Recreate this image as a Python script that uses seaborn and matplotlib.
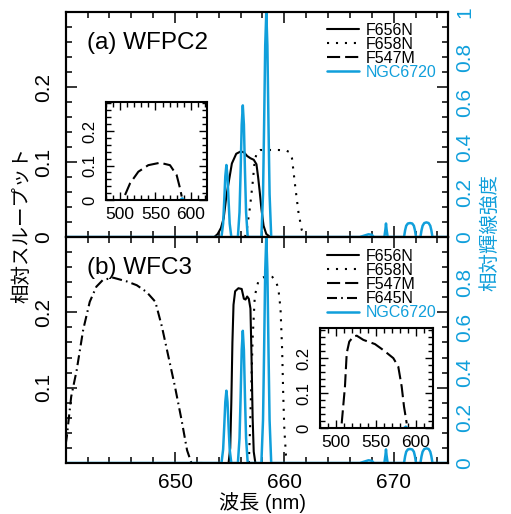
import numpy as np
import matplotlib
matplotlib.use('Agg')
import matplotlib.pyplot as plt
import seaborn as sns
from matplotlib.ticker import MultipleLocator

sns.set_theme(style='ticks', rc={'axes.edgecolor': 'black', 'axes.linewidth': 1.5,
                                 'xtick.color': 'black', 'ytick.color': 'black',
                                 'text.color': 'black', 'axes.labelcolor': 'black'})
plt.rcParams['font.family'] = ['Liberation Sans', 'Noto Sans CJK JP', 'DejaVu Sans']

CYAN = '#109FDB'

# ---------------- data ----------------
# NGC6720 relative line intensity (right axis, 0-1)
ngc_wl = [640.0, 654.25, 654.4, 654.5, 654.6, 654.7, 654.8, 654.9, 655.0, 655.15,
          655.75, 655.9, 656.0, 656.1, 656.2, 656.3, 656.4, 656.5, 656.65,
          657.9, 658.05, 658.15, 658.25, 658.35, 658.45, 658.55, 658.65, 658.8,
          666.9, 667.3, 667.7, 668.0, 668.2,
          669.15, 669.25, 669.3, 669.35, 669.45,
          670.95, 671.05, 671.15, 671.3, 671.5, 671.7, 671.85, 671.95, 672.05,
          672.45, 672.55, 672.65, 672.8, 673.0, 673.2, 673.35, 673.45, 673.55, 675.0]
ngc_int = [0.0, 0.0, 0.06, 0.16, 0.27, 0.32, 0.27, 0.16, 0.06, 0.0,
           0.0, 0.11, 0.29, 0.50, 0.585, 0.50, 0.29, 0.11, 0.0,
           0.0, 0.19, 0.50, 0.85, 1.0, 0.85, 0.50, 0.19, 0.0,
           0.0, 0.006, 0.012, 0.01, 0.0,
           0.0, 0.035, 0.06, 0.035, 0.0,
           0.0, 0.03, 0.05, 0.06, 0.062, 0.06, 0.05, 0.03, 0.0,
           0.0, 0.03, 0.05, 0.062, 0.065, 0.062, 0.05, 0.03, 0.0, 0.0]

# (a) WFPC2
wfpc2_f656n_wl = [653.6, 653.9, 654.2, 654.45, 654.7, 654.9, 655.2, 655.6, 656.0, 656.3,
                  656.6, 656.9, 657.2, 657.45, 657.6, 657.75, 657.9, 658.1, 658.35, 658.7]
wfpc2_f656n_t = [0.0, 0.004, 0.012, 0.025, 0.055, 0.072, 0.098, 0.111, 0.114, 0.113,
                 0.108, 0.105, 0.103, 0.097, 0.08, 0.06, 0.038, 0.015, 0.004, 0.0]
wfpc2_f658n_wl = [656.4, 656.56, 656.86, 657.1, 657.3, 657.53, 657.8, 658.5, 659.5, 660.2,
                  660.5, 660.7, 661.0, 661.3, 661.6, 661.9]
wfpc2_f658n_t = [0.0, 0.009, 0.04, 0.072, 0.103, 0.114, 0.116, 0.116, 0.116, 0.115,
                 0.113, 0.105, 0.067, 0.032, 0.009, 0.0]
wfpc2_f547m_wl = [507.2, 514.2, 525.9, 539.9, 556.3, 570.4, 579.8, 584.5, 586.9]
wfpc2_f547m_t = [0.0145, 0.048, 0.082, 0.101, 0.108, 0.101, 0.072, 0.034, 0.01]

# (b) WFC3
wfc3_f656n_wl = [654.9, 655.05, 655.15, 655.25, 655.35, 655.5, 655.8, 656.1, 656.3, 656.45,
                 656.6, 656.75, 656.9, 657.0, 657.1, 657.2, 657.35]
wfc3_f656n_t = [0.0, 0.02, 0.08, 0.16, 0.21, 0.228, 0.232, 0.231, 0.218, 0.217,
                0.221, 0.218, 0.205, 0.14, 0.06, 0.015, 0.0]
wfc3_f658n_wl = [656.75, 656.85, 656.95, 657.1, 657.3, 657.6, 658.0, 658.4, 658.9, 659.2,
                 659.45, 659.65, 659.8, 659.9, 660.0, 660.15, 660.3]
wfc3_f658n_t = [0.0, 0.04, 0.09, 0.165, 0.222, 0.24, 0.246, 0.248, 0.247, 0.242,
                0.232, 0.205, 0.15, 0.09, 0.045, 0.01, 0.0]
wfc3_f645n_wl = [640.0, 640.1, 640.5, 641.0, 641.6, 642.2, 642.8, 643.4, 644.35, 645.6,
                 646.5, 647.4, 648.2, 648.8, 649.4, 650.0, 650.6, 651.1, 651.5, 652.5]
wfc3_f645n_t = [0.025, 0.035, 0.088, 0.123, 0.177, 0.214, 0.234, 0.243, 0.246, 0.241,
                0.236, 0.227, 0.214, 0.181, 0.141, 0.101, 0.057, 0.017, 0.0, 0.0]
wfc3_f547m_wl = [507.2, 511.3, 513.5, 516.7, 521.7, 526.0, 534.3, 548.9, 559.3, 571.9,
                 578.1, 582.4, 585.3, 588.7]
wfc3_f547m_t = [0.014, 0.119, 0.214, 0.247, 0.261, 0.264, 0.252, 0.240, 0.223, 0.2,
                0.176, 0.119, 0.062, 0.014]

# tiny line inside insets
inset_ngc_wl = [480.0, 584.0, 587.6, 591.0, 622.0]
inset_ngc_int = [0.0, 0.0, 0.006, 0.0, 0.0]

labels_a = ['F656N', 'F658N', 'F547M', 'NGC6720']
labels_b = ['F656N', 'F658N', 'F547M', 'F645N', 'NGC6720']
right_ticks = [0, 0.2, 0.4, 0.6, 0.8, 1.0]
right_labels_a = ['0', '0.2', '0.4', '0.6', '0.8', '1']
right_labels_b = ['0', '0.2', '0.4', '0.6', '0.8', '']

# ---------------- styles ----------------
SOLID = '-'
DOT = (0, (1, 3.3))
DASH = (0, (6.3, 2.4))
DASHDOT = (0, (4.8, 2.0, 0.8, 2.0))
LW = 1.5

fig = plt.figure(figsize=(5.11, 5.14), dpi=100)
ax1 = fig.add_axes([0.1286, 0.5389, 0.7487, 0.43775])
ax2 = fig.add_axes([0.1286, 0.0992, 0.7487, 0.4397])
tx1 = ax1.twinx()
tx2 = ax2.twinx()
in1 = fig.add_axes([0.2068, 0.6109, 0.1977, 0.1912])
in2 = fig.add_axes([0.6262, 0.1667, 0.2217, 0.1946])


def line(ax, x, y, color='black', ls='-', lw=LW):
    sns.lineplot(x=x, y=y, ax=ax, estimator=None, sort=False, color=color,
                 linestyle=ls, linewidth=lw, legend=False)
    return ax.get_lines()[-1]


# top panel
h1 = line(ax1, wfpc2_f656n_wl, wfpc2_f656n_t, ls=SOLID)
h2 = line(ax1, wfpc2_f658n_wl, wfpc2_f658n_t, ls=DOT)
h4 = line(tx1, ngc_wl, ngc_int, color=CYAN, lw=1.8)
h3 = line(in1, wfpc2_f547m_wl, wfpc2_f547m_t, ls=DASH)
line(in1, inset_ngc_wl, inset_ngc_int, color=CYAN, lw=1.2)

# bottom panel
g1 = line(ax2, wfc3_f656n_wl, wfc3_f656n_t, ls=SOLID)
g2 = line(ax2, wfc3_f658n_wl, wfc3_f658n_t, ls=DOT)
g4 = line(ax2, wfc3_f645n_wl, wfc3_f645n_t, ls=DASHDOT)
g5 = line(tx2, ngc_wl, ngc_int, color=CYAN, lw=1.8)
g3 = line(in2, wfc3_f547m_wl, wfc3_f547m_t, ls=DASH)
line(in2, inset_ngc_wl, inset_ngc_int, color=CYAN, lw=1.2)

TICK_FS = 15
for ax, ylabs in ((ax1, ['0', '0.1', '0.2', '']), (ax2, ['', '0.1', '0.2', ''])):
    ax.set_xlim(640, 675)
    ax.set_ylim(0, 0.3)
    ax.set_xticks([650, 660, 670])
    ax.xaxis.set_minor_locator(MultipleLocator(2))
    ax.set_yticks([0, 0.1, 0.2, 0.3], ylabs)
    ax.yaxis.set_minor_locator(MultipleLocator(0.02))
    ax.tick_params(which='both', direction='in', top=True, right=True, left=True,
                   bottom=True, labelright=False, width=1.1)
    ax.tick_params(which='major', length=8)
    ax.tick_params(which='minor', length=4.5)
    ax.tick_params(axis='y', labelsize=TICK_FS, pad=9, labelrotation=90)
    ax.tick_params(axis='x', labelsize=TICK_FS, pad=7)
    ax.set_xlabel('')
    ax.set_ylabel('')
    for s in ax.spines.values():
        s.set_linewidth(1.5)
ax1.tick_params(axis='x', labelbottom=False)
for lab in ax1.get_yticklabels() + ax2.get_yticklabels():
    lab.set_va('center')

for tx, rl in ((tx1, right_labels_a), (tx2, right_labels_b)):
    tx.set_ylim(0, 1)
    tx.set_yticks(right_ticks, rl)
    tx.tick_params(axis='y', length=0, labelcolor=CYAN, labelsize=TICK_FS, pad=5,
                   labelrotation=90)
    tx.set_ylabel('')
    for lab in tx.get_yticklabels():
        lab.set_va('center')
    for s in tx.spines.values():
        s.set_linewidth(1.5)

for ins in (in1, in2):
    ins.set_xlim(480, 622)
    ins.set_ylim(0, 0.285)
    ins.set_xticks([500, 550, 600])
    ins.xaxis.set_minor_locator(MultipleLocator(10))
    ins.set_yticks([0, 0.1, 0.2], ['0', '0.1', '0.2'])
    ins.yaxis.set_minor_locator(MultipleLocator(0.02))
    ins.tick_params(which='both', direction='in', top=True, right=True, width=1.0)
    ins.tick_params(which='major', length=6)
    ins.tick_params(which='minor', length=3.5)
    ins.tick_params(axis='x', labelsize=12.5, pad=5)
    ins.tick_params(axis='y', labelsize=12, pad=6, labelrotation=90)
    for lab in ins.get_yticklabels():
        lab.set_va('center')
    ins.set_xlabel('')
    ins.set_ylabel('')
    ins.set_facecolor('white')
    for s in ins.spines.values():
        s.set_linewidth(1.5)

# panel titles
ax1.text(0.0557, 0.862, '(a) WFPC2', transform=ax1.transAxes, fontsize=17.5,
         ha='left', va='center')
ax2.text(0.0557, 0.863, '(b) WFC3', transform=ax2.transAxes, fontsize=17.5,
         ha='left', va='center')

# legends
LEG_KW = dict(frameon=False, fontsize=11.5, handlelength=2.0, handletextpad=0.43,
              labelspacing=-0.06, borderpad=0, borderaxespad=0, loc='upper left')
leg1 = tx1.legend([h1, h2, h3, h4], labels_a, bbox_to_anchor=(0.683, 0.952), **LEG_KW)
leg1.get_texts()[-1].set_color(CYAN)
leg2 = tx2.legend([g1, g2, g3, g4, g5], labels_b, bbox_to_anchor=(0.683, 0.947), **LEG_KW)
leg2.get_texts()[-1].set_color(CYAN)

# axis labels
fig.text(0.0425, 0.562, '相対スループット', rotation=90, ha='center', va='center', fontsize=14)
fig.text(0.959, 0.547, '相対輝線強度', rotation=90, ha='center', va='center', fontsize=14,
         color=CYAN)
fig.text(0.513, 0.023, '波長 (nm)', ha='center', va='center', fontsize=14.5)

fig.savefig('out.png', dpi=100)
